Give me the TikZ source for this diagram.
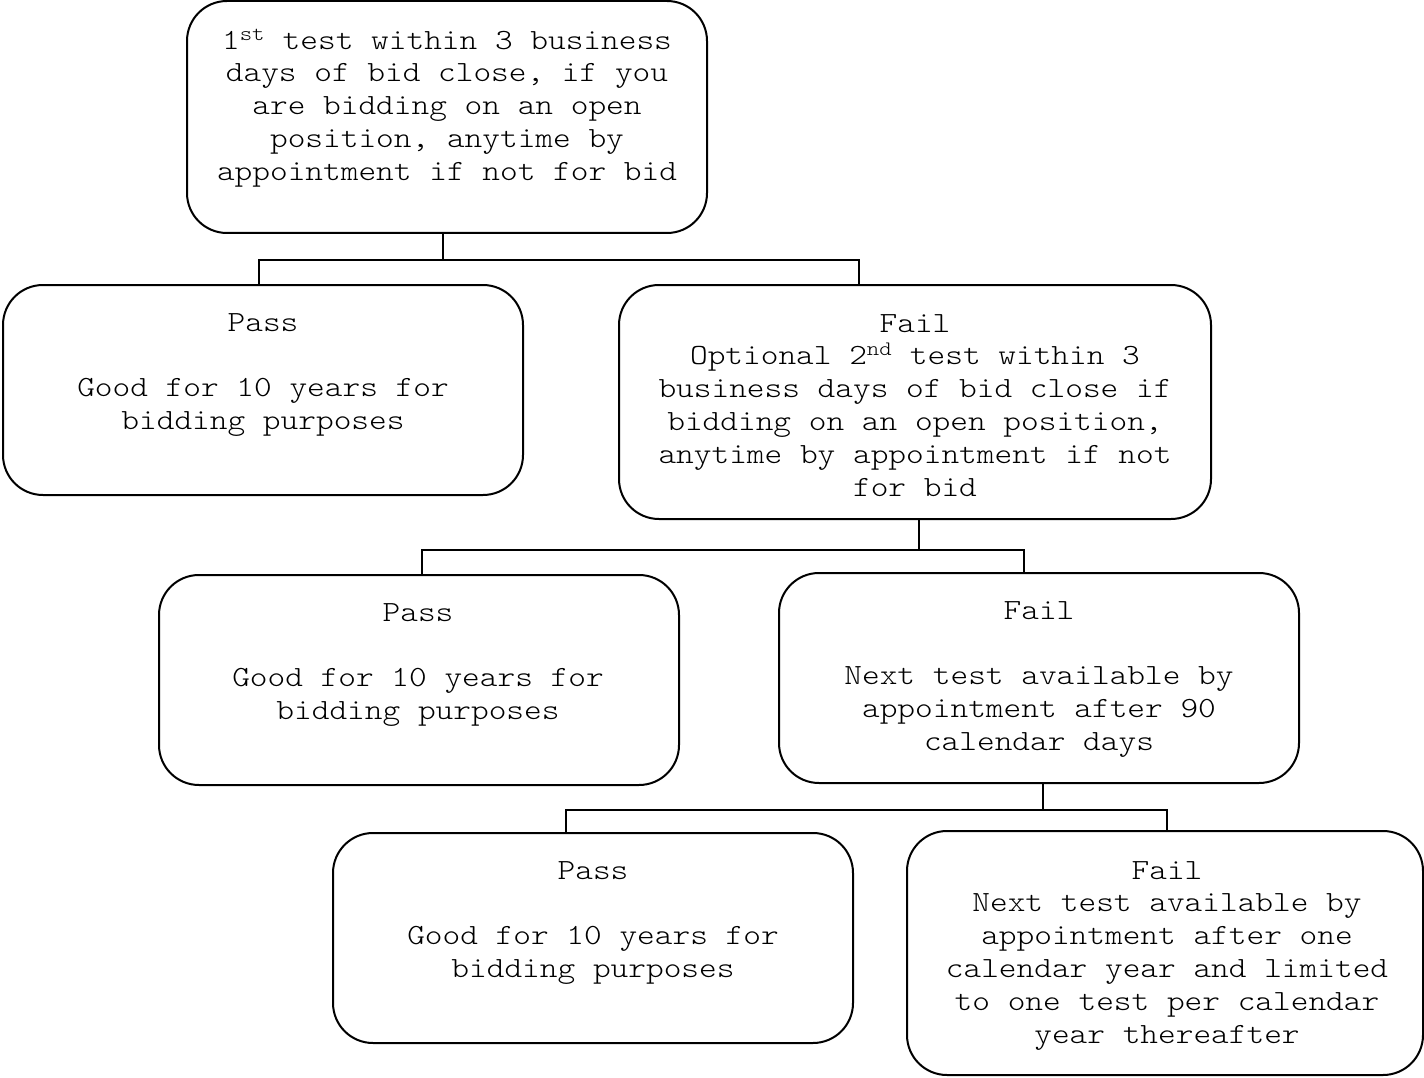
\documentclass[tikz,border=0pt]{standalone}
\usepackage{fontspec}
\newfontfamily\courfont[FakeStretch=1.15]{Latin Modern Mono Light}
\begin{document}
\begin{tikzpicture}[x=1pt,y=-1pt,
  box/.style={draw=black, line width=2pt, rounded corners=40pt, rectangle, inner sep=0pt},
  txt/.style={anchor=north, align=center, inner sep=0pt, font=\courfont\fontsize{29.3pt}{32.8pt}\selectfont},
  conn/.style={draw=black, line width=2pt}]
\useasboundingbox (0,0) rectangle (1424,1078);
% boxes
\node[box, minimum width=520pt, minimum height=232pt] (b1) at (447,117) {};
\node[box, minimum width=520pt, minimum height=210pt] (p1) at (263,390) {};
\node[box, minimum width=592pt, minimum height=234pt] (f1) at (915,402) {};
\node[box, minimum width=520pt, minimum height=210pt] (p2) at (419,680) {};
\node[box, minimum width=520pt, minimum height=210pt] (f2) at (1039,678) {};
\node[box, minimum width=520pt, minimum height=210pt] (p3) at (593,938) {};
\node[box, minimum width=516pt, minimum height=244pt] (f3) at (1165,953) {};
% texts
\node[txt] (t1) at (447,26) {\strut 1\textsuperscript{st} test within 3 business\\days of bid close, if you\\are bidding on an open\\position, anytime by\\appointment if not for bid};
\node[txt] (tp1) at (263,308) {\strut Pass\\~\\Good for 10 years for\\bidding purposes};
\node[txt] (tf1) at (915,309) {\strut Fail\\Optional 2\textsuperscript{nd} test within 3\\business days of bid close if\\bidding on an open position,\\anytime by appointment if not\\for bid};
\node[txt] (tp2) at (418,598) {\strut Pass\\~\\Good for 10 years for\\bidding purposes};
\node[txt] (tf2) at (1039,596) {\strut Fail\\~\\Next test available by\\appointment after 90\\calendar days};
\node[txt] (tp3) at (593,856) {\strut Pass\\~\\Good for 10 years for\\bidding purposes};
\node[txt] (tf3) at (1167,856) {\strut Fail\\Next test available by\\appointment after one\\calendar year and limited\\to one test per calendar\\year thereafter};
% connectors
\draw[conn] ([xshift=-4pt]b1.south) -- ++(0,26) coordinate (j1);
\draw[conn] ([xshift=-4pt]p1.north) |- (j1) -| ([xshift=-56pt]f1.north);
\draw[conn] ([xshift=4pt]f1.south) -- ++(0,30) coordinate (j2);
\draw[conn] ([xshift=3pt]p2.north) |- (j2) -| ([xshift=-15pt]f2.north);
\draw[conn] ([xshift=4pt]f2.south) -- ++(0,26) coordinate (j3);
\draw[conn] ([xshift=-27pt]p3.north) |- (j3) -| ([xshift=2pt]f3.north);
\end{tikzpicture}
\end{document}
